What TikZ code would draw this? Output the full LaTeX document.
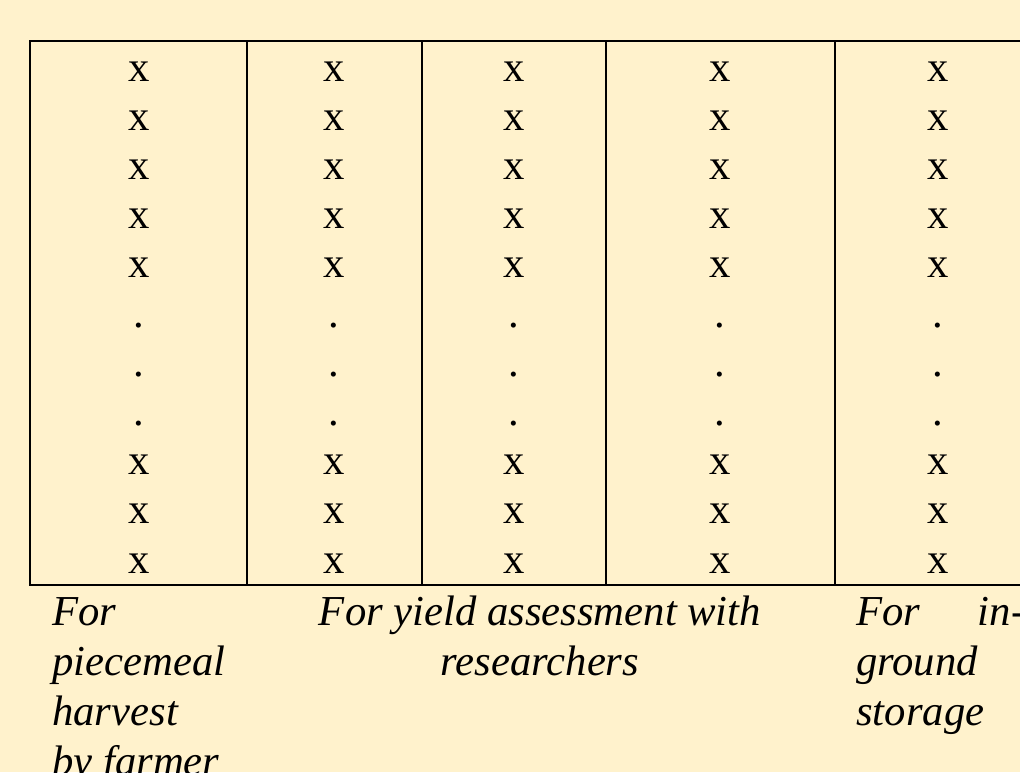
\documentclass[tikz,border=0pt]{standalone}
\usepackage{fontspec}
\setmainfont{Liberation Serif}
\definecolor{paper}{HTML}{FFF2CC}
\begin{document}
\begin{tikzpicture}[x=0.75pt,y=-0.75pt,
  gridline/.style={line width=1.5pt,draw=black},
  cellmark/.style={anchor=base,inner sep=0pt,font=\fontsize{32}{38}\selectfont},
  capleft/.style={anchor=base west,inner sep=0pt,font=\fontsize{32}{38}\selectfont\itshape},
  capmid/.style={anchor=base,inner sep=0pt,font=\fontsize{32}{38}\selectfont\itshape}]
\useasboundingbox (0,0) rectangle (1020,772);
\clip (0,0) rectangle (1020,772);
\fill[paper] (0,0) rectangle (1020,772);

% table frame and column rules
\coordinate (tl) at (30,41);
\coordinate (br) at (1045,585);
\draw[gridline] (tl) rectangle (br);
\foreach \xx in {247,422,606,835}
  \draw[gridline] (\xx,41) -- (\xx,585);

% plant positions in each column
\foreach \c/\cx in {1/139,2/334,3/514,4/720,5/938}{
  \foreach \r/\sym in {1/x,2/x,3/x,4/x,5/x,6/.,7/.,8/.,9/x,10/x,11/x}{
    \node[cellmark] (p\c-\r) at (\cx,{81+49.2*(\r-1)}) {\sym};
  }
}

% captions under the columns
\node[capleft] (a1) at (52,625) {For};
\node[capleft] (a2) at (52,675) {piecemeal};
\node[capleft] (a3) at (52,725) {harvest};
\node[capleft] (a4) at (52,775) {by farmer};

\node[capmid] (b1) at (540,625) {For yield assessment with};
\node[capmid] (b2) at (540,675) {researchers};

\node[capleft] (c1) at (856,625) {\hbox to 126.75pt{For\hfill in-}};
\node[capleft] (c2) at (856,675) {ground};
\node[capleft] (c3) at (856,725) {storage};
\end{tikzpicture}
\end{document}
